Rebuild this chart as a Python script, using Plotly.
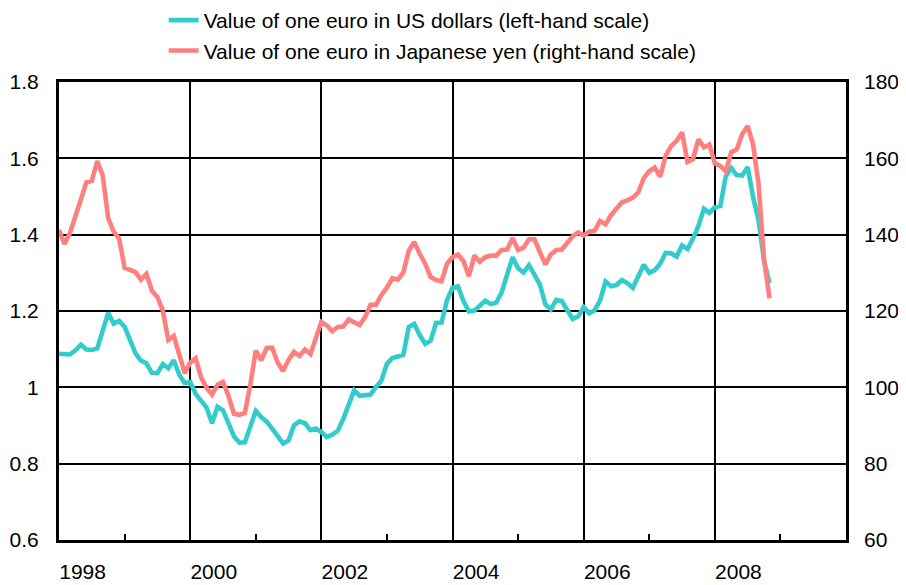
import plotly.graph_objects as go

start_year = 1998
usd = [
    1.088, 1.088, 1.086, 1.097, 1.112, 1.099, 1.098, 1.102, 1.150, 1.195, 1.167, 1.174,
    1.159, 1.120, 1.089, 1.070, 1.063, 1.038, 1.037, 1.061, 1.050, 1.071, 1.033, 1.011,
    1.014, 0.983, 0.964, 0.947, 0.906, 0.949, 0.940, 0.904, 0.872, 0.855, 0.856, 0.897,
    0.938, 0.922, 0.910, 0.892, 0.874, 0.853, 0.861, 0.901, 0.911, 0.906, 0.888, 0.892,
    0.883, 0.870, 0.876, 0.886, 0.917, 0.955, 0.992, 0.978, 0.981, 0.981, 1.001, 1.018,
    1.062, 1.077, 1.081, 1.085, 1.158, 1.166, 1.137, 1.114, 1.122, 1.169, 1.170, 1.229,
    1.261, 1.265, 1.226, 1.199, 1.201, 1.214, 1.227, 1.218, 1.222, 1.249, 1.299, 1.341,
    1.312, 1.301, 1.320, 1.294, 1.269, 1.217, 1.204, 1.229, 1.226, 1.202, 1.179, 1.186,
    1.210, 1.194, 1.202, 1.227, 1.277, 1.265, 1.268, 1.281, 1.273, 1.261, 1.288, 1.321,
    1.300, 1.307, 1.324, 1.352, 1.351, 1.342, 1.372, 1.362, 1.390, 1.423, 1.468, 1.457,
    1.472, 1.475, 1.553, 1.575, 1.556, 1.555, 1.577, 1.498, 1.437, 1.332, 1.273,
]
jpy = [
    141.2, 137.6, 140.4, 144.4, 149.2, 153.7, 154.1, 159.3, 155.5, 144.3, 140.8, 139.0,
    131.3, 130.8, 130.2, 128.2, 129.7, 125.3, 123.7, 120.1, 112.4, 113.5, 108.3, 103.7,
    106.5, 107.6, 102.6, 99.9, 98.1, 100.7, 101.4, 97.8, 93.1, 92.8, 93.3, 100.6,
    109.6, 107.1, 110.3, 110.4, 106.5, 104.3, 107.2, 109.3, 108.2, 109.9, 108.7, 113.4,
    117.1, 116.2, 114.7, 115.8, 115.9, 117.8, 117.1, 116.3, 118.4, 121.6, 121.6, 124.2,
    126.1, 128.6, 128.2, 130.1, 135.8, 138.1, 135.0, 132.4, 128.9, 128.1, 127.8, 132.4,
    134.1, 134.8, 133.1, 129.1, 134.5, 132.9, 134.1, 134.5, 134.5, 136.0, 136.1, 139.1,
    136.0, 136.6, 138.8, 138.8, 135.4, 132.2, 134.8, 136.0, 136.1, 138.1, 139.6, 140.6,
    139.8, 140.8, 141.0, 143.6, 142.7, 145.1, 146.7, 148.5, 149.0, 149.7, 151.1, 154.8,
    156.6, 157.6, 155.2, 160.7, 163.2, 164.6, 166.8, 159.1, 159.8, 165.0, 162.9, 163.6,
    158.7, 158.0, 156.6, 161.6, 162.3, 166.3, 168.5, 163.6, 153.2, 133.5, 123.3,
]
year_labels = ["1998", "2000", "2002", "2004", "2006", "2008"]
grid_years = [2000, 2002, 2004, 2006, 2008]
minor_years = [1999, 2001, 2003, 2005, 2007, 2009]
left_ticks = [0.6, 0.8, 1.0, 1.2, 1.4, 1.6, 1.8]
left_labels = ["0.6", "0.8", "1", "1.2", "1.4", "1.6", "1.8"]
right_ticks = [60, 80, 100, 120, 140, 160, 180]
names = ["Value of one euro in US dollars (left-hand scale)",
         "Value of one euro in Japanese yen (right-hand scale)"]

x = [start_year + i / 12 for i in range(len(usd))]
label_pos = [int(y) + 0.36 for y in year_labels]

FONT = "Liberation Sans, Arial, sans-serif"

fig = go.Figure()
fig.add_trace(go.Scatter(x=x, y=usd, mode="lines", name=names[0],
                         line=dict(color="#33CCCC", width=4.6),
                         xaxis="x", yaxis="y"))
fig.add_trace(go.Scatter(x=x[:len(jpy)], y=jpy, mode="lines", name=names[1],
                         line=dict(color="#FF7F7F", width=4.6),
                         xaxis="x2", yaxis="y2"))

# the page body has an 8px margin, so the figure is made 8px smaller and
# its margins reduced accordingly to keep the plot area where the reference has it
fig.update_layout(
    width=898, height=577,
    margin=dict(l=51, r=60, t=74, b=45, autoexpand=False),
    paper_bgcolor="white", plot_bgcolor="white",
    font=dict(family=FONT, size=21, color="black"),
    showlegend=True,
    legend=dict(x=0.133, y=1.179, xanchor="left", yanchor="top",
                bgcolor="rgba(0,0,0,0)", font=dict(size=21),
                itemwidth=30, tracegroupgap=0),
    xaxis=dict(range=[1998, 2010], tickmode="array", tickvals=grid_years,
               showticklabels=False, ticks="inside", ticklen=0,
               showgrid=True, gridcolor="black", gridwidth=2,
               showline=True, mirror=True, linecolor="black", linewidth=3,
               zeroline=False,
               minor=dict(tickmode="array", tickvals=minor_years, ticks="inside",
                          ticklen=6, tickwidth=1.5, tickcolor="black", showgrid=False)),
    xaxis2=dict(range=[1998, 2010], overlaying="x", side="bottom", anchor="y2",
                tickmode="array", tickvals=label_pos, ticktext=year_labels,
                ticks="", showgrid=False, showline=False, zeroline=False,
                ticklabelstandoff=17, tickfont=dict(size=21)),
    yaxis=dict(range=[0.6, 1.8], tickmode="array", tickvals=left_ticks,
               ticktext=left_labels,
               showgrid=True, gridcolor="black", gridwidth=2,
               showline=True, mirror=True, linecolor="black", linewidth=3,
               ticks="", zeroline=False, ticklabelstandoff=13),
    yaxis2=dict(range=[60, 180], overlaying="y", side="right", anchor="x2",
                tickmode="array", tickvals=right_ticks,
                showgrid=False, showline=False, ticks="", zeroline=False,
                ticklabelstandoff=17),
)

fig.write_html("out.html")
